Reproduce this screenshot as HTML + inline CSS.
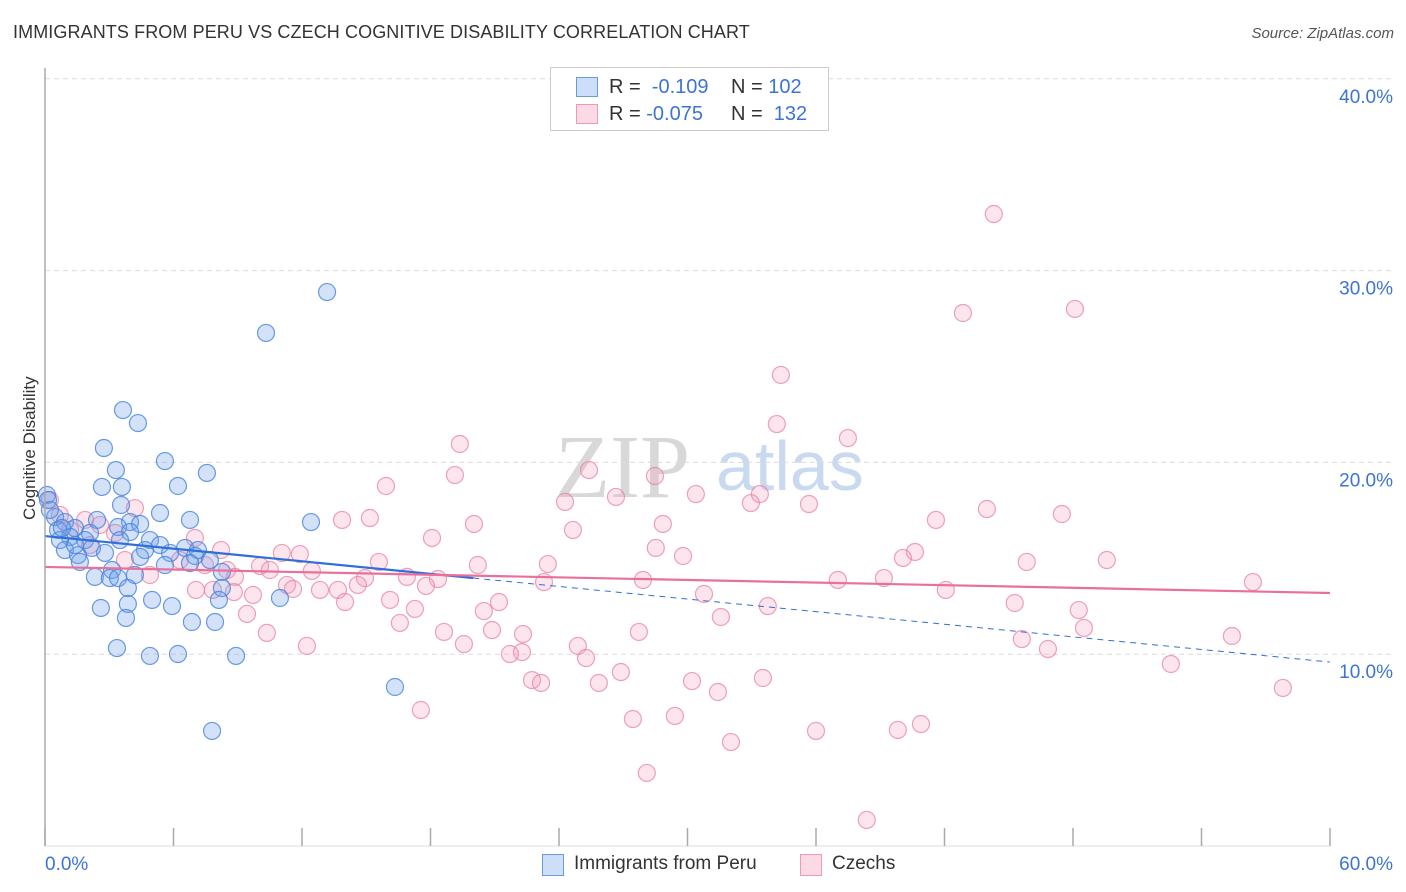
<!DOCTYPE html>
<html><head><meta charset="utf-8">
<style>
body{margin:0;background:#fff;font-family:"Liberation Sans",sans-serif;}
#wrap{position:relative;width:1406px;height:892px;overflow:hidden;}
.t{position:absolute;white-space:nowrap;}
</style></head>
<body>
<div id="wrap">
<div class="t" style="left:13px;top:22px;font-size:18px;color:#333;letter-spacing:0.1px">IMMIGRANTS FROM PERU VS CZECH COGNITIVE DISABILITY CORRELATION CHART</div>
<div class="t" style="right:12px;top:25px;font-size:15px;color:#555;font-style:italic">Source: ZipAtlas.com</div>
<svg id="svg" width="1406" height="892" style="position:absolute;left:0;top:0">
<text x="555" y="497" font-size="90" fill="#d8d8d8" font-family="Liberation Serif">ZIP</text>
<text x="716" y="490" font-size="70" fill="#c9daf0" font-family="Liberation Sans">atlas</text>
<g id="grid"></g><g id="pts"></g><g id="lines"></g><g id="axes"></g>
</svg>
<div class="t" style="left:-35px;top:445px;font-size:17px;color:#333;transform:rotate(-90deg);width:130px;text-align:center">Cognitive Disability</div>
<div style="position:absolute;left:550px;top:67px;width:277px;height:62px;border:1px solid #ccc;background:#fff;font-size:20px;color:#333">
 <div style="position:absolute;left:25px;top:8px;width:300px">
  <span style="position:absolute;left:0;top:1px;width:20px;height:18px;background:rgba(110,160,235,0.35);border:1px solid #6a9be0"></span>
  <span style="position:absolute;left:33px;top:0">R = <span style="color:#3c74d4">&nbsp;-0.109</span></span>
  <span style="position:absolute;left:155px;top:0">N = <span style="color:#3c74d4">102</span></span>
 </div>
 <div style="position:absolute;left:25px;top:35px;width:300px">
  <span style="position:absolute;left:0;top:1px;width:20px;height:18px;background:rgba(245,150,180,0.35);border:1px solid #ee9ab5"></span>
  <span style="position:absolute;left:33px;top:0">R = <span style="color:#3c74d4">-0.075</span></span>
  <span style="position:absolute;left:155px;top:0">N = <span style="color:#3c74d4">&nbsp;132</span></span>
 </div>
</div>
<div style="position:absolute;left:542px;top:852px;font-size:19px;color:#333;width:420px;height:26px">
 <span style="position:absolute;left:0;top:2px;width:20px;height:20px;background:rgba(110,160,235,0.35);border:1px solid #6a9be0"></span>
 <span style="position:absolute;left:32px;top:1px">Immigrants from Peru</span>
 <span style="position:absolute;left:258px;top:2px;width:20px;height:20px;background:rgba(245,150,180,0.35);border:1px solid #ee9ab5"></span>
 <span style="position:absolute;left:290px;top:1px">Czechs</span>
</div>
</div>
<script>
const xTicks=[0,60];
const yTicks=[10,20,30,40];
const peruX=[13.17,10.32,3.64,4.34,2.75,5.60,3.31,7.56,6.21,2.66,3.59,0.09,3.55,5.37,6.77,12.42,2.43,3.97,4.44,0.47,0.93,1.40,0.61,2.10,3.41,3.97,1.17,1.87,0.70,4.90,5.37,6.54,7.14,4.67,5.84,7.00,7.70,4.44,0.93,1.54,2.80,3.50,1.63,3.13,5.60,6.77,8.26,2.33,3.03,3.41,3.87,4.20,8.26,5.00,3.87,2.61,5.93,8.12,10.97,3.78,6.86,7.94,3.36,4.90,6.21,8.92,16.34,7.80,0.14,0.23,1.40,2.19,0.79];
const peruY=[28.88,26.75,22.73,22.05,20.75,20.07,19.60,19.45,18.77,18.72,18.72,18.30,17.78,17.36,17.00,16.89,17.00,16.89,16.79,17.15,16.89,16.58,16.48,16.32,16.63,16.37,16.11,15.95,15.95,15.95,15.69,15.54,15.43,15.43,15.28,15.12,14.91,15.07,15.43,15.17,15.28,15.95,14.81,14.39,14.65,14.75,14.29,14.03,13.97,13.97,13.45,14.13,13.45,12.83,12.62,12.41,12.51,12.83,12.93,11.89,11.68,11.68,10.32,9.91,10.01,9.91,8.29,6.00,18.04,17.52,15.69,15.54,16.58];
const czX=[44.30,42.86,48.09,34.36,34.17,37.49,19.37,25.40,28.48,19.14,15.92,30.39,26.66,33.38,24.28,32.96,35.67,43.98,47.48,15.17,13.87,20.03,28.85,24.65,41.60,7.00,18.07,8.22,28.52,29.79,40.62,40.06,11.90,11.06,15.59,23.48,20.21,45.84,49.58,10.04,8.50,10.50,12.46,8.87,16.90,14.94,18.35,23.30,27.92,37.02,39.17,56.40,11.30,14.61,17.79,12.84,13.68,11.58,7.05,7.84,8.82,9.71,42.06,30.77,16.11,21.20,14.01,33.75,45.28,17.27,20.49,31.56,48.27,9.43,16.57,20.87,48.51,18.63,27.73,22.32,10.36,55.42,45.61,24.88,12.23,19.56,46.83,22.27,21.71,25.26,52.57,26.89,22.74,23.16,30.21,25.86,33.52,31.42,57.80,17.55,27.45,29.41,40.90,39.82,36.0,32.03,28.10,38.37,0.23,0.70,1.87,2.57,6.30,7.47,3.73,4.90,3.27,4.20,1.17,2.10];
const czY=[32.95,27.79,28.0,24.56,22.0,21.27,20.96,19.60,19.29,19.34,18.77,18.35,18.20,18.35,17.94,17.88,17.83,17.57,17.31,17.10,17.00,16.79,16.79,16.48,17.00,16.06,16.06,15.43,15.54,15.12,15.33,15.02,15.22,15.28,14.81,14.70,14.65,14.81,14.91,14.60,14.39,14.39,14.34,14.03,14.03,13.97,13.92,13.76,13.87,13.87,13.97,13.76,13.61,13.61,13.56,13.35,13.35,13.40,13.35,13.35,13.24,13.09,13.35,13.14,12.83,12.72,12.72,12.51,12.67,12.36,12.25,11.94,12.30,12.10,11.63,11.26,11.37,11.16,11.16,11.05,11.11,10.95,10.79,10.43,10.43,10.53,10.27,10.11,10.01,9.80,9.49,9.07,8.65,8.50,8.60,8.50,8.76,8.03,8.24,7.09,6.62,6.78,6.36,6.05,6.0,5.42,3.81,1.36,18.04,17.26,17.0,16.74,14.91,14.65,14.91,14.13,16.32,17.62,16.48,15.69];
const peruTrend=[16.16,9.59];
const peruSolidEnd=20;
const czTrend=[14.55,13.19];

const X=v=>45+v*(1285/60);
const Y=v=>846-v*19.18;
const NS='http://www.w3.org/2000/svg';
function mk(tag,parent,attrs){const e=document.createElementNS(NS,tag);for(const k in attrs)e.setAttribute(k,attrs[k]);parent.appendChild(e);return e;}
const grid=document.getElementById('grid'),pts=document.getElementById('pts'),lines=document.getElementById('lines'),axes=document.getElementById('axes');
yTicks.forEach(t=>{
 const l=mk('line',grid,{x1:45,x2:1393,y1:Y(t),y2:Y(t),stroke:'#dcdcdc','stroke-dasharray':'5,4'});
 
 
 const tx=mk('text',axes,{x:1393,y:Y(t)+24,'text-anchor':'end','font-size':19,fill:'#3c74d4'});
 tx.textContent=t.toFixed(1)+'%';
 
 
});
const al=mk('line',axes,{x1:45,x2:45,y1:68,y2:846,stroke:'#aaa','stroke-width':1.5});


const bl=mk('line',axes,{x1:45,x2:1330,y1:846,y2:846,stroke:'#ddd'});


for(let i=0;i<=10;i++){
 const tk=mk('line',axes,{x1:X(i*6),x2:X(i*6),y1:828,y2:846,stroke:'#aaa','stroke-width':1.5});
 
 
}
xTicks.forEach((t,i)=>{
 const tx=mk('text',axes,{x:i?1393:45,y:870,'text-anchor':i?'end':'start','font-size':19,fill:'#3c74d4'});
 tx.textContent=t.toFixed(1)+'%';
 
 
});
czX.forEach((x,i)=>{
 const c=mk('circle',pts,{cx:X(x),cy:Y(czY[i]),r:8.5,fill:'rgba(245,150,180,0.25)',stroke:'rgba(232,130,165,0.75)','stroke-width':1.2});
 
 
});
peruX.forEach((x,i)=>{
 const c=mk('circle',pts,{cx:X(x),cy:Y(peruY[i]),r:8.5,fill:'rgba(110,160,235,0.3)',stroke:'rgba(70,130,220,0.8)','stroke-width':1.2});
 
 
});
const py=x=>peruTrend[0]+(peruTrend[1]-peruTrend[0])*x/60;
const l1=mk('line',lines,{x1:X(0),y1:Y(py(0)),x2:X(peruSolidEnd),y2:Y(py(peruSolidEnd)),stroke:'#2f6fd8','stroke-width':2.2});


const l2=mk('line',lines,{x1:X(peruSolidEnd),y1:Y(py(peruSolidEnd)),x2:X(60),y2:Y(py(60)),stroke:'#2f6fd8','stroke-width':1,'stroke-dasharray':'6,5'});


const l3=mk('line',lines,{x1:X(0),y1:Y(czTrend[0]),x2:X(60),y2:Y(czTrend[1]),stroke:'#e8709a','stroke-width':2.2});


</script>
</body></html>
